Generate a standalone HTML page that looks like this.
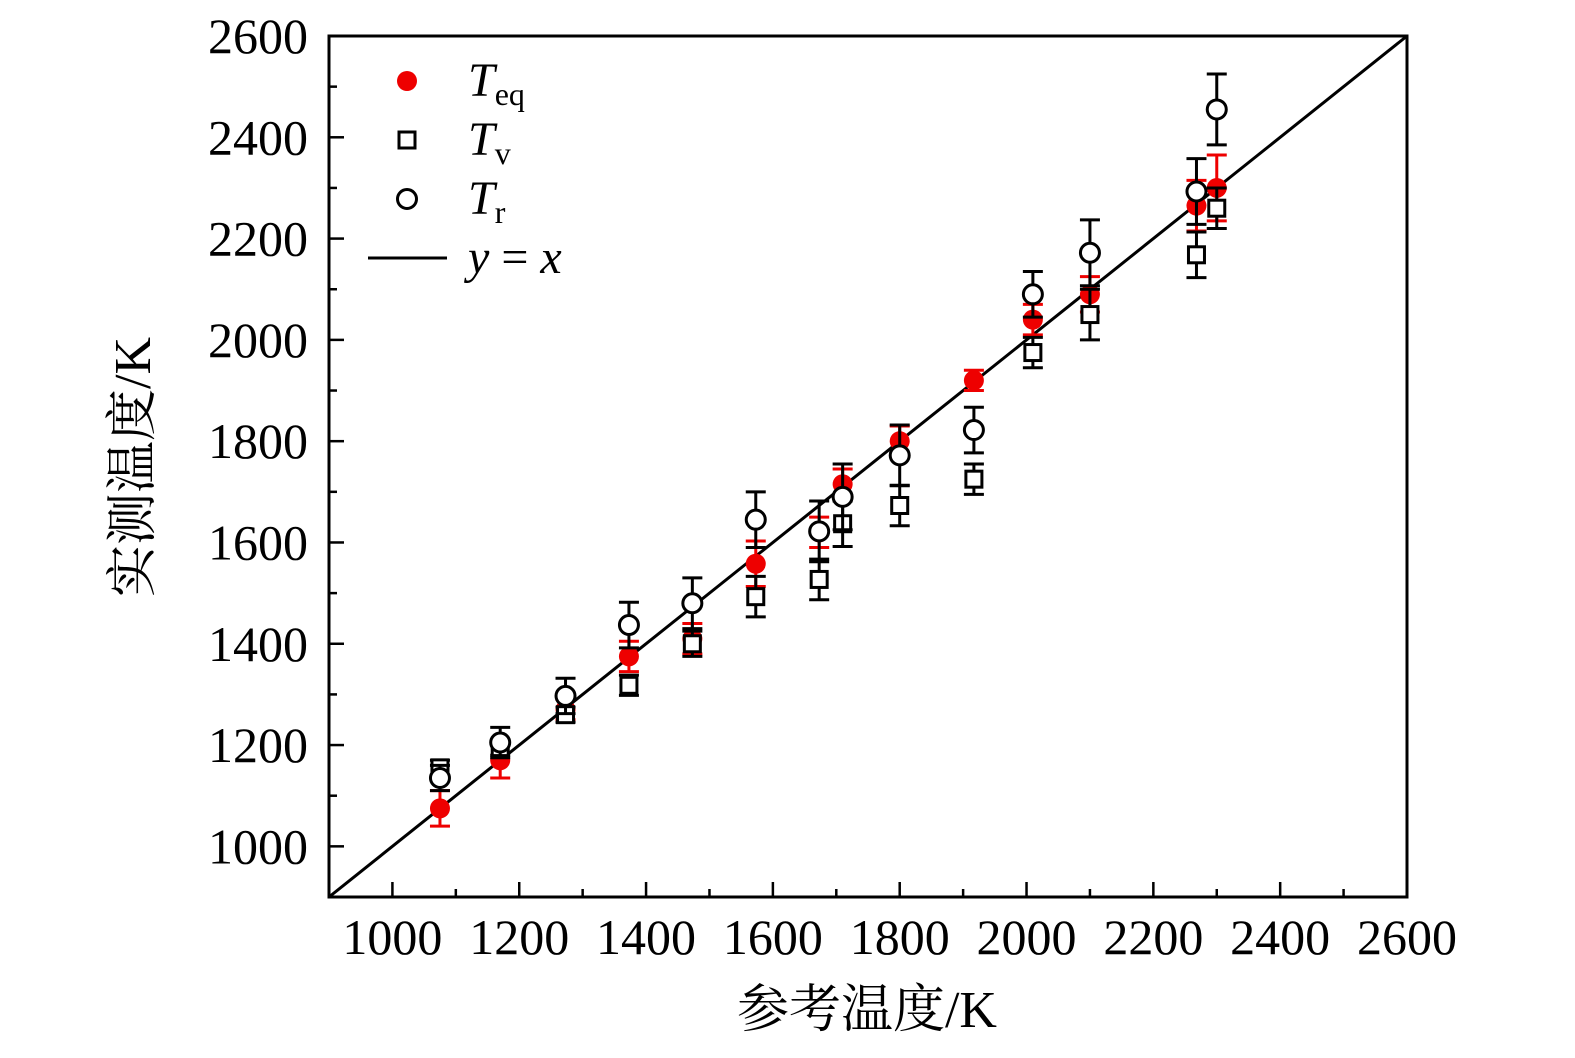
<!DOCTYPE html>
<html><head><meta charset="utf-8"><style>
body{margin:0;background:#fff}
svg text{font-family:"Liberation Serif","Noto Serif CJK SC",serif;fill:#000}
</style></head><body>
<svg id="chart" width="1575" height="1053" xmlns="http://www.w3.org/2000/svg">
<g id="marks"></g>
<rect x="329" y="36" width="1078" height="861" fill="none" stroke="#000" stroke-width="3"/>
<g id="axes"></g>
<text x="867" y="1027" font-size="52" text-anchor="middle">参考温度/K</text>
<text transform="translate(150,467) rotate(-90)" font-size="52" text-anchor="middle">实测温度/K</text>
<g>
<circle cx="407" cy="81" r="10" fill="#e00"/>
<text x="468" y="96" font-size="48" font-style="italic">T<tspan font-style="normal" font-size="32" dy="9">eq</tspan></text>
<rect x="399" y="132" width="16" height="16" fill="#fff" stroke="#000" stroke-width="3"/>
<text x="468" y="155" font-size="48" font-style="italic">T<tspan font-style="normal" font-size="32" dy="9">v</tspan></text>
<circle cx="407" cy="199" r="9.5" fill="#fff" stroke="#000" stroke-width="3"/>
<text x="468" y="214" font-size="48" font-style="italic">T<tspan font-style="normal" font-size="32" dy="9">r</tspan></text>
<line x1="368" y1="258" x2="447" y2="258" stroke="#000" stroke-width="3"/>
<text x="468" y="273" font-size="48" font-style="italic">y <tspan font-style="normal">=</tspan> x</text>
</g>
</svg>
<script>
const refT=[1075,1170,1273,1373,1473,1573,1673,1710,1800,1917,2010,2100,2268,2300];
const teq=[1075,1170,1270,1375,1410,1558,1620,1715,1800,1920,2040,2090,2265,2300];
const teqErr=[35,35,20,30,30,45,30,30,30,20,30,35,50,65];
const tv=[1155,1195,1260,1318,1400,1493,1527,1637,1673,1725,1975,2050,2168,2260];
const tvErr=[15,15,15,20,25,40,40,45,40,30,30,50,45,40];
const tr=[1135,1205,1297,1437,1480,1645,1622,1690,1772,1822,2090,2172,2293,2455];
const trErr=[25,30,35,45,50,55,60,65,60,45,45,65,65,70];
const ticks=[1000,1200,1400,1600,1800,2000,2200,2400,2600];
const minorTicks=[1100,1300,1500,1700,1900,2100,2300,2500];
const X=v=>329+(v-900)*1078/1700, Y=v=>897-(v-900)*861/1700;
const NS='http://www.w3.org/2000/svg';
function mk(par,tag,at){const e=document.createElementNS(NS,tag);for(const k in at)e.setAttribute(k,at[k]);par.appendChild(e);return e;}
const ax=document.getElementById('axes'), mg=document.getElementById('marks');
ticks.forEach(t=>{
 let e=mk(ax,'line',{x1:X(t),x2:X(t),y1:897,y2:882,stroke:'#000','stroke-width':2.5});
 
 e=mk(ax,'line',{x1:329,x2:344,y1:Y(t),y2:Y(t),stroke:'#000','stroke-width':2.5});
 
 e=mk(ax,'text',{x:X(t),y:954,'font-size':50,'text-anchor':'middle'});e.textContent=t;
 
 e=mk(ax,'text',{x:308,y:Y(t)+17,'font-size':50,'text-anchor':'end'});e.textContent=t;
 
});
minorTicks.forEach(t=>{
 let e=mk(ax,'line',{x1:X(t),x2:X(t),y1:897,y2:889,stroke:'#000','stroke-width':2.5});
 
 e=mk(ax,'line',{x1:329,x2:337,y1:Y(t),y2:Y(t),stroke:'#000','stroke-width':2.5});
 
});
let ln=mk(mg,'line',{x1:X(900),y1:Y(900),x2:X(2600),y2:Y(2600),stroke:'#000','stroke-width':3});

function err(x,v,e,c){
 const g=mk(mg,'g',{stroke:c,'stroke-width':3});
 
 mk(g,'line',{x1:X(x),x2:X(x),y1:Y(v-e),y2:Y(v+e)});
 mk(g,'line',{x1:X(x)-10,x2:X(x)+10,y1:Y(v-e),y2:Y(v-e)});
 mk(g,'line',{x1:X(x)-10,x2:X(x)+10,y1:Y(v+e),y2:Y(v+e)});
}
refT.forEach((x,i)=>{err(x,teq[i],teqErr[i],'#e00');
 const c=mk(mg,'circle',{cx:X(x),cy:Y(teq[i]),r:10,fill:'#e00'});
 });
refT.forEach((x,i)=>{err(x,tv[i],tvErr[i],'#000');
 const r=mk(mg,'rect',{x:X(x)-8,y:Y(tv[i])-8,width:16,height:16,fill:'#fff',stroke:'#000','stroke-width':3});
 });
refT.forEach((x,i)=>{err(x,tr[i],trErr[i],'#000');
 const c=mk(mg,'circle',{cx:X(x),cy:Y(tr[i]),r:9.5,fill:'#fff',stroke:'#000','stroke-width':3});
 });
</script>
</body></html>
